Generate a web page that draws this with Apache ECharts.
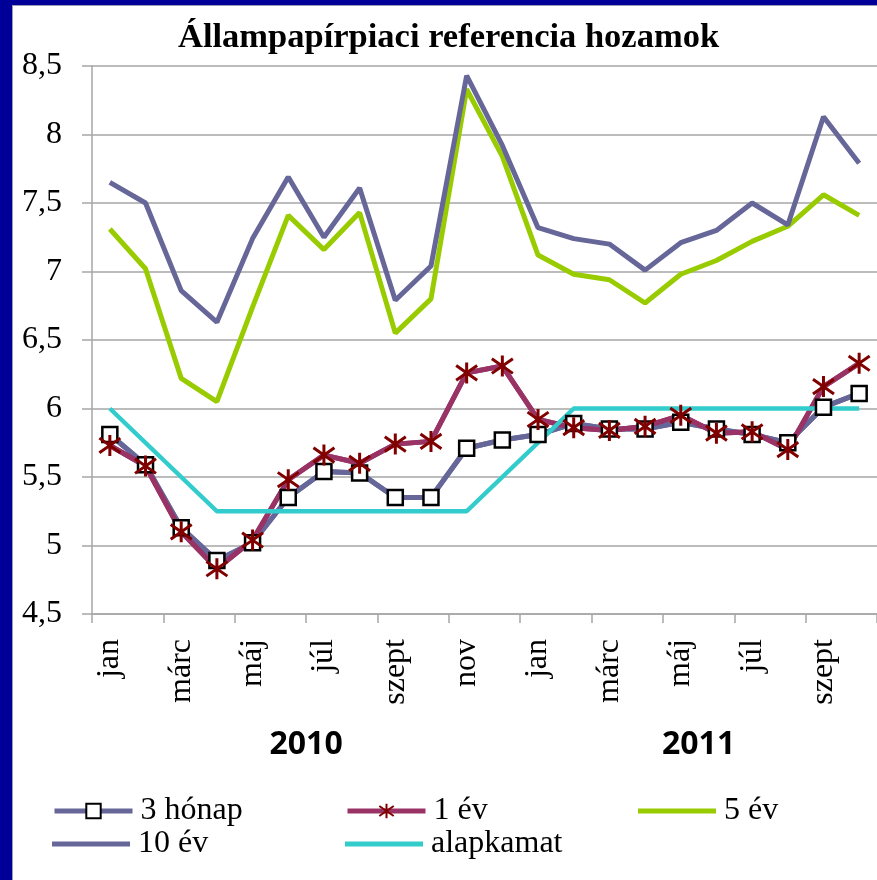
<!DOCTYPE html>
<html>
<head>
<meta charset="utf-8">
<script src="https://cdn.jsdelivr.net/npm/echarts@6/dist/echarts.min.js"></script>
<style>
  html, body { margin: 0; padding: 0; background: #fff; }
  #chart { width: 877px; height: 880px; }
</style>
</head>
<body>
<div id="chart"></div>
<script>
const months = ['jan','febr','márc','ápr','máj','jún','júl','aug','szept','okt','nov','dec',
                'jan','febr','márc','ápr','máj','jún','júl','aug','szept','okt'];
const years = ['2010', '2011'];
const yearStartIdx = [0, 12];
const yearEndIdx = [11, 21];

const honap3 = [5.81,5.59,5.13,4.89,5.02,5.35,5.54,5.53,5.35,5.35,5.71,5.77,
                5.81,5.89,5.85,5.85,5.90,5.85,5.81,5.75,6.01,6.11];
const ev1 = [5.73,5.58,5.10,4.83,5.04,5.48,5.66,5.60,5.74,5.76,6.26,6.31,
             5.92,5.86,5.84,5.87,5.95,5.82,5.83,5.70,6.16,6.33];
const ev5 = [7.31,7.02,6.22,6.05,6.74,7.41,7.16,7.43,6.55,6.80,8.33,7.84,
             7.12,6.98,6.94,6.77,6.98,7.08,7.22,7.33,7.56,7.41];
const ev10 = [7.65,7.50,6.86,6.63,7.24,7.69,7.25,7.61,6.79,7.04,8.43,7.92,
              7.32,7.24,7.20,7.01,7.21,7.30,7.50,7.34,8.13,7.79];
const alapkamat = [6.00,5.75,5.50,5.25,5.25,5.25,5.25,5.25,5.25,5.25,5.25,5.50,
                   5.75,6.00,6.00,6.00,6.00,6.00,6.00,6.00,6.00,6.00];

const C_3H = '#666699', C_1E = '#993366', C_5E = '#99CC00', C_10E = '#666699', C_AK = '#33CCCC';
const STAR = 'path://M10,0L10,20M0,3L20,17M0,17L20,3';
const serif = '"Liberation Serif", "Times New Roman", serif';

const chart = echarts.init(document.getElementById('chart'), null, {renderer: 'canvas'});

function legendItem(name, left, top, withSymbol) {
  const l = {
    data: [withSymbol ? {name: name} : {name: name, icon: 'rect'}],
    left: left, top: top, padding: 0,
    itemWidth: 78, itemHeight: withSymbol ? 18 : 5,
    textStyle: {fontFamily: serif, fontSize: 32, color: '#000', padding: [0, 0, 0, 3]},
    selectedMode: false
  };
  if (withSymbol) l.lineStyle = {width: 5};
  return l;
}

function lineOnly(data, color, width) {
  return {type: 'line', data: data, symbol: 'none', color: color,
          lineStyle: {color: color, width: width}, silent: true};
}

const option = {
  backgroundColor: '#fff',
  animation: false,
  title: {
    text: 'Állampapírpiaci referencia hozamok',
    left: 178, top: 21, padding: 0,
    textStyle: {fontFamily: serif, fontWeight: 'bold', fontSize: 34.5, color: '#000'}
  },
  legend: [
    legendItem('3 hónap', 52, 795, true),
    legendItem('1 év', 345, 795, true),
    legendItem('5 év', 638, 795, false),
    legendItem('10 év', 52, 828, false),
    legendItem('alapkamat', 345, 828, false)
  ],
  grid: {left: 92, right: 0, top: 66, bottom: 266, containLabel: false},
  xAxis: {
    type: 'category', data: months, boundaryGap: true,
    axisLine: {lineStyle: {color: '#a6a6a6', width: 1.5}},
    axisTick: {show: true, length: 9, lineStyle: {color: '#a6a6a6', width: 1.5}},
    axisLabel: {interval: 1, rotate: 90, margin: 25, fontFamily: serif, fontSize: 32, color: '#000'},
    splitLine: {show: false}
  },
  yAxis: {
    type: 'value', min: 4.5, max: 8.5, interval: 0.5,
    axisLine: {show: true, lineStyle: {color: '#a6a6a6', width: 1.5}},
    axisTick: {show: true, length: 10, lineStyle: {color: '#a6a6a6', width: 1.5}},
    axisLabel: {margin: 30, fontFamily: serif, fontSize: 32, color: '#000',
      formatter: v => String(v).replace('.', ',')},
    splitLine: {show: true, lineStyle: {color: '#a6a6a6', width: 1.5}}
  },
  series: [
    lineOnly(honap3, C_3H, 5),
    {name: '3 hónap', type: 'line', data: honap3, symbol: 'rect', symbolSize: 15,
     color: C_3H,
     lineStyle: {color: C_3H, width: 5},
     itemStyle: {color: '#fff', borderColor: '#000', borderWidth: 2.5}},
    lineOnly(ev1, C_1E, 5),
    {name: '1 év', type: 'line', data: ev1, symbol: STAR, symbolSize: 21,
     color: C_1E,
     lineStyle: {color: C_1E, width: 5},
     itemStyle: {color: '#800000', borderColor: '#800000', borderWidth: 3}},
    {name: '5 év', type: 'line', data: ev5, symbol: 'none', color: C_5E,
     lineStyle: {color: C_5E, width: 5}},
    {name: '10 év', type: 'line', data: ev10, symbol: 'none', color: C_10E,
     lineStyle: {color: C_10E, width: 5}},
    {name: 'alapkamat', type: 'line', data: alapkamat, symbol: 'none', color: C_AK,
     lineStyle: {color: C_AK, width: 4.5}}
  ]
};
chart.setOption(option);

// year labels centred under each year's months, plus the slide frame
const graphics = [
  {type: 'rect', shape: {x: 0, y: 0, width: 12, height: 880}, style: {fill: '#000099'}, z: 100},
  {type: 'rect', shape: {x: 0, y: 0, width: 877, height: 5}, style: {fill: '#000099'}, z: 100},
  {type: 'rect', shape: {x: 12, y: 5, width: 865, height: 1}, style: {fill: '#9a9ab0'}, z: 100},
  {type: 'rect', shape: {x: 12, y: 5, width: 1, height: 875}, style: {fill: '#9a9ab0'}, z: 100}
];
years.forEach((y, k) => {
  const x0 = chart.convertToPixel({xAxisIndex: 0}, yearStartIdx[k]);
  const x1 = chart.convertToPixel({xAxisIndex: 0}, yearEndIdx[k]);
  graphics.push({
    type: 'text', x: (x0 + x1) / 2, y: 745,
    style: {text: y, font: 'bold 32px "Open Sans", sans-serif', fill: '#000',
            align: 'center', verticalAlign: 'middle'}
  });
});
chart.setOption({graphic: graphics});
</script>
</body>
</html>
